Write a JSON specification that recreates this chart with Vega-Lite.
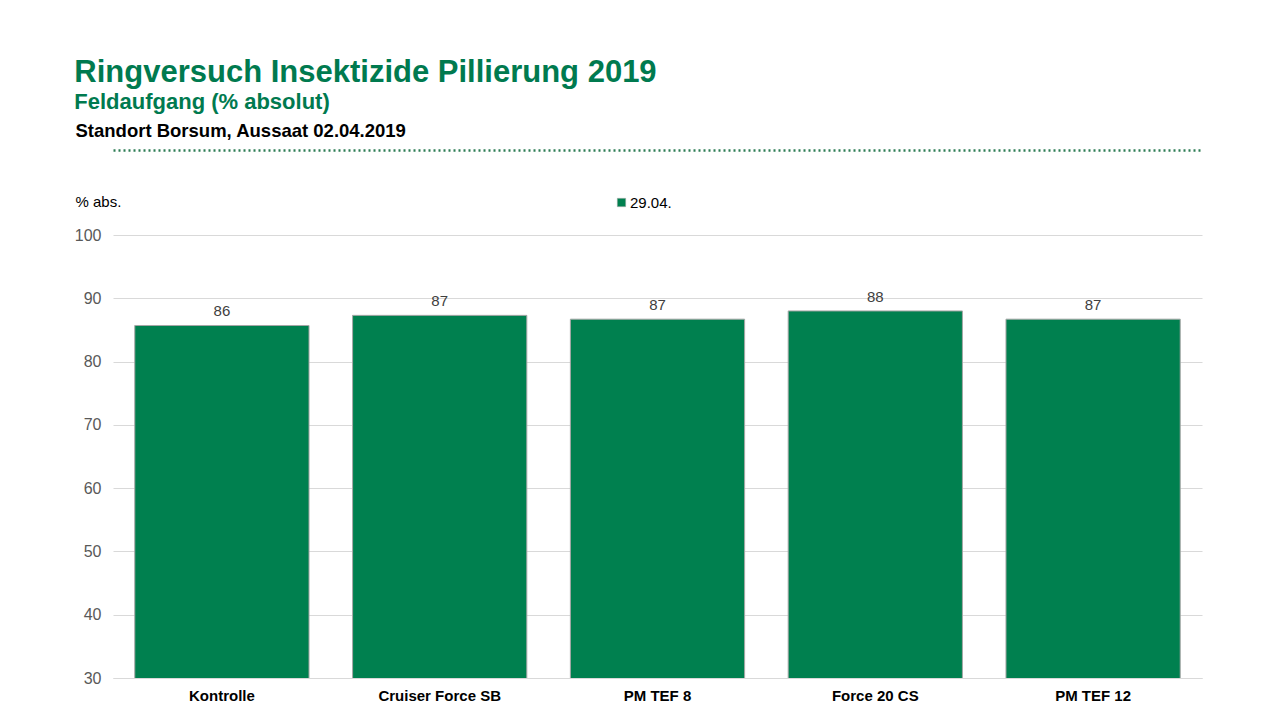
{
  "$schema": "https://vega.github.io/schema/vega-lite/v6.json",
  "width": 1089,
  "height": 443,
  "autosize": {"type": "none"},
  "padding": {"left": 113, "top": 235, "right": 78, "bottom": 42},
  "background": "white",
  "view": {"stroke": null},
  "title": {
    "text": "Ringversuch Insektizide Pillierung 2019",
    "subtitle": "Feldaufgang (% absolut)",
    "anchor": "start",
    "frame": "bounds",
    "color": "#007A4F",
    "subtitleColor": "#007A4F",
    "font": "Liberation Sans",
    "subtitleFont": "Liberation Sans",
    "fontSize": 31,
    "subtitleFontSize": 22,
    "subtitleFontWeight": "bold",
    "fontWeight": "bold",
    "subtitlePadding": 3,
    "offset": 7
  },
  "data": {
    "values": [
      {"variante": "Kontrolle", "termin": "29.04.", "feldaufgang": 85.7},
      {"variante": "Cruiser Force SB", "termin": "29.04.", "feldaufgang": 87.3},
      {"variante": "PM TEF 8", "termin": "29.04.", "feldaufgang": 86.7},
      {"variante": "Force 20 CS", "termin": "29.04.", "feldaufgang": 88.0},
      {"variante": "PM TEF 12", "termin": "29.04.", "feldaufgang": 86.7}
    ]
  },
  "resolve": {"axis": {"x": "independent"}},
  "layer": [
    {
      "mark": {"type": "bar", "stroke": "#a6a6a6", "strokeWidth": 1, "clip": true},
      "encoding": {
        "x": {
          "field": "variante",
          "type": "nominal",
          "sort": null,
          "scale": {"paddingInner": 0.2, "paddingOuter": 0.1},
          "axis": {
            "title": null,
            "labelAngle": 0,
            "labelFont": "Liberation Sans",
            "labelFontSize": 15,
            "labelFontWeight": "bold",
            "labelColor": "#000000",
            "labelPadding": 10,
            "ticks": false,
            "domainColor": "#d9d9d9",
            "domainWidth": 1
          }
        },
        "y": {
          "field": "feldaufgang",
          "type": "quantitative",
          "scale": {"domain": [30, 100], "nice": false, "zero": false},
          "axis": {
            "values": [30, 40, 50, 60, 70, 80, 90, 100],
            "title": "% abs.",
            "titleAngle": 0,
            "titleAlign": "left",
            "titleBaseline": "alphabetic",
            "titleX": -38,
            "titleY": -29,
            "titleFont": "Liberation Sans",
            "titleFontSize": 15,
            "titleFontWeight": "normal",
            "titleColor": "#000000",
            "labelFont": "Liberation Sans",
            "labelFontSize": 16,
            "labelColor": "#595959",
            "labelPadding": 12,
            "ticks": false,
            "domain": false,
            "gridColor": "#d9d9d9",
            "gridWidth": 1
          }
        },
        "color": {
          "field": "termin",
          "type": "nominal",
          "scale": {"range": ["#00804F"]},
          "legend": {
            "title": null,
            "orient": "none",
            "legendX": 501,
            "legendY": -40,
            "symbolType": "square",
            "symbolSize": 70,
            "symbolStrokeColor": "#a6a6a6",
            "symbolStrokeWidth": 0.5,
            "labelFont": "Liberation Sans",
            "labelFontSize": 15,
            "labelColor": "#000000",
            "labelOffset": 1
          }
        }
      }
    },
    {
      "mark": {
        "type": "text",
        "dy": -14,
        "font": "Liberation Sans",
        "fontSize": 15,
        "color": "#404040"
      },
      "encoding": {
        "x": {
          "field": "variante",
          "type": "nominal",
          "sort": null,
          "axis": {
            "orient": "top",
            "offset": 85,
            "labels": false,
            "ticks": false,
            "grid": false,
            "domainColor": "#2E7D55",
            "domainWidth": 2.5,
            "domainDash": [2, 3],
            "title": "Standort Borsum, Aussaat 02.04.2019",
            "titleAlign": "left",
            "titleBaseline": "alphabetic",
            "titleX": -38,
            "titleY": -14,
            "titleFont": "Liberation Sans",
            "titleFontSize": 18.5,
            "titleFontWeight": "bold",
            "titleColor": "#000000"
          }
        },
        "y": {"field": "feldaufgang", "type": "quantitative"},
        "text": {"field": "feldaufgang", "type": "quantitative", "format": ".0f"}
      }
    }
  ]
}
